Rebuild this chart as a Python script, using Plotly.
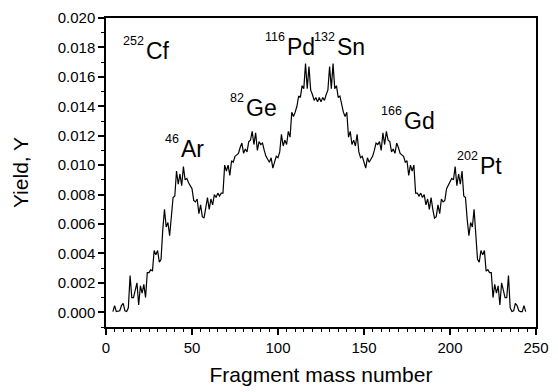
import plotly.graph_objects as go

# Fragment mass numbers (A) for 252Cf spontaneous fission
mass_number = list(range(4, 245))

# Yield values in units of 1e-3 (A = 4 ... 244)
yield_e3 = [
    0.05, 0.45, 0.05, 0.05, 0.10, 0.45, 0.60, 0.10, 0.05, 0.30,   # 4-13
    2.50, 1.00, 1.00, 1.50, 2.00, 0.50, 1.80, 1.30, 1.90, 1.00,   # 14-23
    2.70, 2.70, 2.90, 2.80, 4.20, 3.90, 4.20, 3.40, 3.60, 5.60,   # 24-33
    7.00, 5.80, 6.10, 5.20, 6.30, 7.80, 7.90, 9.60, 8.70, 9.40,   # 34-43
    8.60, 9.90, 9.00, 9.10, 8.80, 8.60, 8.40, 7.60, 7.50, 7.70,   # 44-53
    6.70, 7.30, 6.50, 6.40, 7.00, 7.80, 7.00, 7.70, 7.30, 8.00,   # 54-63
    7.80, 8.10, 7.90, 8.10, 8.10, 10.0, 9.60, 10.0, 9.30, 10.3,   # 64-73
    10.2, 10.6, 10.7, 10.8, 11.2, 11.5, 10.8, 11.1, 10.9, 11.6,   # 74-83
    11.7, 12.3, 11.4, 12.2, 11.0, 11.6, 11.4, 11.5, 11.0, 10.6,   # 84-93
    10.4, 10.2, 10.5, 9.80, 10.2, 10.6, 10.5, 10.9, 12.1, 11.3,   # 94-103
    11.7, 11.4, 12.3, 11.9, 13.6, 13.3, 13.6, 14.0, 14.7, 14.6,   # 104-113
    15.4, 15.2, 16.9, 15.2, 16.7, 15.1, 14.8, 14.4, 14.6, 14.3,   # 114-123
    14.6, 14.3, 14.6, 14.4, 14.8, 15.1, 16.7, 15.2, 16.9, 15.2,   # 124-133
    15.4, 14.6, 14.7, 14.0, 13.6, 13.3, 13.6, 11.9, 12.3, 11.4,   # 134-143
    11.7, 11.3, 12.1, 10.9, 10.5, 10.6, 10.2, 9.80, 10.5, 10.2,   # 144-153
    10.4, 10.6, 11.0, 11.5, 11.4, 11.6, 11.0, 12.2, 11.4, 12.3,   # 154-163
    11.7, 11.6, 10.9, 11.1, 10.8, 11.5, 11.2, 10.8, 10.7, 10.6,   # 164-173
    10.2, 10.3, 9.30, 10.0, 9.60, 10.0, 8.10, 8.10, 7.90, 8.10,   # 174-183
    7.80, 8.00, 7.30, 7.70, 7.00, 7.80, 7.00, 6.40, 6.50, 7.30,   # 184-193
    6.70, 7.70, 7.50, 7.60, 8.40, 8.60, 8.80, 9.10, 9.00, 9.90,   # 194-203
    8.60, 9.40, 8.70, 9.60, 7.90, 7.80, 6.30, 5.20, 6.10, 5.80,   # 204-213
    7.00, 5.60, 3.60, 3.40, 4.20, 3.90, 4.20, 2.80, 2.90, 2.70,   # 214-223
    2.70, 1.00, 1.90, 1.30, 1.80, 0.50, 2.00, 1.50, 1.00, 1.00,   # 224-233
    2.50, 0.30, 0.05, 0.10, 0.60, 0.45, 0.10, 0.05, 0.05, 0.45,   # 234-243
    0.05,                                                          # 244
]

x_ticks = [0, 50, 100, 150, 200, 250]
y_ticks = [0.000, 0.002, 0.004, 0.006, 0.008, 0.010, 0.012, 0.014, 0.016, 0.018, 0.020]

# nuclide labels: superscript mass number, element symbol, anchor position (A, Y)
label_sup = ["252", "46", "82", "116", "132", "166", "202"]
label_sym = ["Cf", "Ar", "Ge", "Pd", "Sn", "Gd", "Pt"]
label_x = [22.4, 43.2, 80.8, 104.8, 133.9, 172.7, 217.0]
label_y = [0.01775, 0.01112, 0.01390, 0.01805, 0.01805, 0.01300, 0.00995]

FONT = "Liberation Sans, Arial, sans-serif"

fig = go.Figure()
fig.add_trace(go.Scatter(
    x=mass_number,
    y=[v * 1e-3 for v in yield_e3],
    mode="lines",
    line=dict(color="black", width=1.2),
    showlegend=False,
    hoverinfo="skip",
))

annotations = []
for sup, sym, ax_, ay_ in zip(label_sup, label_sym, label_x, label_y):
    annotations.append(dict(
        x=ax_, y=ay_, xref="x", yref="y", text=sym, showarrow=False,
        xanchor="left", yanchor="middle", xshift=-1,
        font=dict(family=FONT, size=23, color="black"),
    ))
    annotations.append(dict(
        x=ax_, y=ay_, xref="x", yref="y", text=sup, showarrow=False,
        xanchor="right", yanchor="middle", yshift=10, xshift=1,
        font=dict(family=FONT, size=12.5, color="black"),
    ))

fig.update_layout(
    width=558, height=392,
    margin=dict(l=106, r=18, t=9, b=63),
    paper_bgcolor="white", plot_bgcolor="white",
    font=dict(family=FONT, color="black"),
    annotations=annotations,
    xaxis=dict(
        range=[0, 250], tickvals=x_ticks, ticks="outside", ticklen=6, tickwidth=1.5,
        tickcolor="black", showline=True, linecolor="black", linewidth=1.5, mirror=True,
        showgrid=False, zeroline=False,
        tickfont=dict(family=FONT, size=15, color="black"),
        minor=dict(dtick=5, tick0=0, ticks="outside", ticklen=3, tickwidth=1, tickcolor="black", showgrid=False),
        title=dict(text="Fragment mass number", font=dict(family=FONT, size=21, color="black"), standoff=13),
    ),
    yaxis=dict(
        range=[-0.001, 0.020], tickvals=y_ticks, tickformat=".3f", ticks="outside", ticklen=6, tickwidth=1.5,
        tickcolor="black", showline=True, linecolor="black", linewidth=1.5, mirror=True,
        showgrid=False, zeroline=False,
        tickfont=dict(family=FONT, size=15, color="black"),
        minor=dict(dtick=0.001, tick0=0, ticks="outside", ticklen=3, tickwidth=1, tickcolor="black", showgrid=False),
        title=dict(text="Yield, Y", font=dict(family=FONT, size=21, color="black"), standoff=23),
    ),
    xaxis2=dict(
        overlaying="x", side="top", anchor="y", range=[0, 250], dtick=5, tick0=0,
        ticks="inside", ticklen=3, tickwidth=1, tickcolor="black",
        showticklabels=False, showgrid=False, zeroline=False, showline=False,
    ),
    yaxis2=dict(
        overlaying="y", side="right", anchor="x", range=[-0.001, 0.020], dtick=0.001, tick0=0,
        ticks="inside", ticklen=3, tickwidth=1, tickcolor="black",
        showticklabels=False, showgrid=False, zeroline=False, showline=False,
    ),
)

fig.write_html(
    "out.html",
    config={"displayModeBar": False},
    post_script="document.body.style.margin='0px';document.body.style.overflow='hidden';",
)
